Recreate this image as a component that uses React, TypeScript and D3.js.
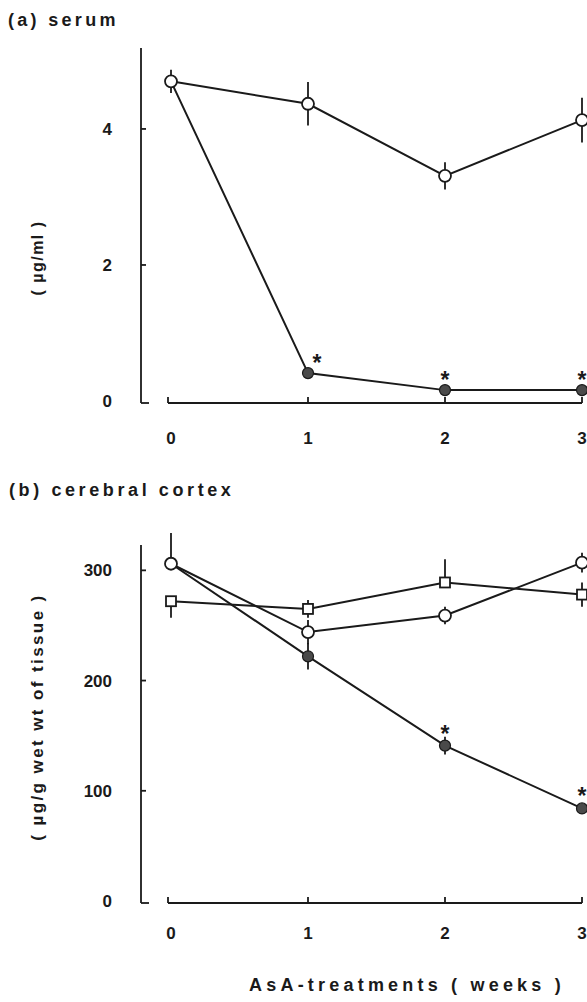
import React from "react";
import * as d3 from "d3";

const weeks = [0, 1, 2, 3];
const weekLabels = ["0", "1", "2", "3"];

// (a) serum, µg/ml
const serumTicks = [0, 2, 4];
const serumControl = [4.7, 4.37, 3.31, 4.13];
const serumControlErr = [0.17, 0.32, 0.2, 0.33];
const serumTreated = [4.7, 0.41, 0.16, 0.16];
const serumTreatedErr = [0, 0, 0, 0];
const serumStars = [false, true, true, true];

// (b) cerebral cortex, µg/g wet wt of tissue
const cortexTicks = [0, 100, 200, 300];
const cortexControl = [306, 244, 259, 307];
const cortexControlErr = [28, 11, 8, 9];
const cortexControlDir = ["up", "both", "both", "both"];
const cortexSquare = [272, 265, 289, 278];
const cortexSquareErr = [15, 8, 21, 11];
const cortexSquareDir = ["down", "both", "up", "both"];
const cortexTreated = [306, 222, 141, 84];
const cortexTreatedErr = [0, 12, 8, 3];
const cortexStars = [false, false, true, true];

const FONT = "'Liberation Sans', Arial, Helvetica, sans-serif";
const INK = "#1a1a1a";

const x = d3.scaleLinear().domain([0, 3]).range([171, 582]);
const yA = d3.scaleLinear().domain([0, 5.19]).range([401, 48]);
const yB = d3.scaleLinear().domain([0, 323]).range([901, 545]);

type Y = d3.ScaleLinear<number, number>;

function Line({ vals, y }: { vals: number[]; y: Y }) {
  const gen = d3
    .line<number>()
    .x((_, i) => x(weeks[i]))
    .y((v) => y(v));
  return <path d={gen(vals) || ""} fill="none" stroke={INK} strokeWidth={2} />;
}

function ErrBars({ vals, errs, y, dirs }: { vals: number[]; errs: number[]; y: Y; dirs?: string[] }) {
  return (
    <g stroke={INK} strokeWidth={1.8}>
      {vals.map((v, i) => {
        if (!errs[i]) return null;
        const d = dirs ? dirs[i] : "both";
        const top = d === "down" ? v : v + errs[i];
        const bot = d === "up" ? v : v - errs[i];
        return <line key={i} x1={x(weeks[i])} x2={x(weeks[i])} y1={y(top)} y2={y(bot)} />;
      })}
    </g>
  );
}

function Markers({ vals, y, kind, skipFirst }: { vals: number[]; y: Y; kind: string; skipFirst?: boolean }) {
  return (
    <g>
      {vals.map((v, i) => {
        if (skipFirst && i === 0) return null;
        const cx = x(weeks[i]);
        const cy = y(v);
        if (kind === "square")
          return (
            <rect key={i} x={cx - 5} y={cy - 5} width={10} height={10} fill="#fff" stroke={INK} strokeWidth={1.8} />
          );
        if (kind === "filled")
          return <circle key={i} cx={cx} cy={cy} r={5.5} fill="#4a4a4a" stroke={INK} strokeWidth={1.2} />;
        return <circle key={i} cx={cx} cy={cy} r={6} fill="#fff" stroke={INK} strokeWidth={1.8} />;
      })}
    </g>
  );
}

function Stars({ vals, y, show, off, dx }: { vals: number[]; y: Y; show: boolean[]; off: number; dx: number[] }) {
  return (
    <g>
      {vals.map((v, i) =>
        show[i] ? (
          <text
            key={i}
            x={x(weeks[i]) + dx[i]}
            y={y(v) - off + 13}
            fontSize={23}
            fontFamily={FONT}
            fontWeight="bold"
            textAnchor="middle"
            fill={INK}
          >
            *
          </text>
        ) : null
      )}
    </g>
  );
}

function Axes({ y, ticks, labelY }: { y: Y; ticks: number[]; labelY: number }) {
  const d1 = y.domain()[1];
  const ax = 141;
  const x0 = y(0) + 2;
  return (
    <g stroke={INK} fill="none" strokeWidth={1.8}>
      <line x1={ax} x2={ax} y1={y(d1)} y2={x0} />
      <line x1={ax} x2={ax + 8} y1={x0} y2={x0} />
      {ticks
        .filter((t) => t !== 0)
        .map((t) => (
          <line key={t} x1={ax} x2={ax + 5} y1={y(t)} y2={y(t)} />
        ))}
      <line x1={x(0) - 3} x2={x(3)} y1={x0} y2={x0} />
      {weeks.map((w) => (
        <line key={w} x1={x(w) + (w === 0 ? -3 : 0)} x2={x(w) + (w === 0 ? -3 : 0)} y1={x0} y2={x0 - 6} />
      ))}
      <g stroke="none" fill={INK} fontFamily={FONT} fontWeight="bold" fontSize={17}>
        {ticks.map((t) => (
          <text key={t} x={112} y={y(t) + 6} textAnchor="end">
            {t}
          </text>
        ))}
        {weeks.map((w, i) => (
          <text key={w} x={x(w)} y={labelY} textAnchor="middle">
            {weekLabels[i]}
          </text>
        ))}
      </g>
    </g>
  );
}

export default function App() {
  return (
    <div style={{ position: "absolute", left: 0, top: 0 }}>
      <svg width={587} height={1002} style={{ display: "block", background: "#fff" }}>
        <text x={8} y={26} fontFamily={FONT} fontWeight="bold" fontSize={18} letterSpacing={3.3} fill={INK}>
          (a) serum
        </text>
        <Axes y={yA} ticks={serumTicks} labelY={444} />
        <text
          transform={`translate(43,258) rotate(-90)`}
          textAnchor="middle"
          fontFamily={FONT}
          fontWeight="bold"
          fontSize={16}
          letterSpacing={1.5}
          fill={INK}
        >
          ( µg/ml )
        </text>
        <Line vals={serumTreated} y={yA} />
        <Line vals={serumControl} y={yA} />
        <ErrBars vals={serumControl} errs={serumControlErr} y={yA} />
        <ErrBars vals={serumTreated} errs={serumTreatedErr} y={yA} />
        <Markers vals={serumTreated} y={yA} kind="filled" skipFirst />
        <Markers vals={serumControl} y={yA} kind="open" />
        <Stars vals={serumTreated} y={yA} show={serumStars} off={15} dx={[0, 9, 0, 0]} />

        <text x={9} y={496} fontFamily={FONT} fontWeight="bold" fontSize={18} letterSpacing={3.6} fill={INK}>
          (b) cerebral cortex
        </text>
        <Axes y={yB} ticks={cortexTicks} labelY={939} />
        <text
          transform={`translate(43,717) rotate(-90)`}
          textAnchor="middle"
          fontFamily={FONT}
          fontWeight="bold"
          fontSize={17}
          letterSpacing={2.4}
          fill={INK}
        >
          ( µg/g wet wt of tissue )
        </text>
        <Line vals={cortexTreated} y={yB} />
        <Line vals={cortexControl} y={yB} />
        <Line vals={cortexSquare} y={yB} />
        <ErrBars vals={cortexTreated} errs={cortexTreatedErr} y={yB} />
        <ErrBars vals={cortexControl} errs={cortexControlErr} y={yB} dirs={cortexControlDir} />
        <ErrBars vals={cortexSquare} errs={cortexSquareErr} y={yB} dirs={cortexSquareDir} />
        <Markers vals={cortexTreated} y={yB} kind="filled" skipFirst />
        <Markers vals={cortexControl} y={yB} kind="open" />
        <Markers vals={cortexSquare} y={yB} kind="square" />
        <Stars vals={cortexTreated} y={yB} show={cortexStars} off={17} dx={[0, 0, 0, 0]} />

        <text x={407} y={991} textAnchor="middle" fontFamily={FONT} fontWeight="bold" fontSize={18} letterSpacing={4.2} fill={INK}>
          AsA-treatments ( weeks )
        </text>
      </svg>
    </div>
  );
}
